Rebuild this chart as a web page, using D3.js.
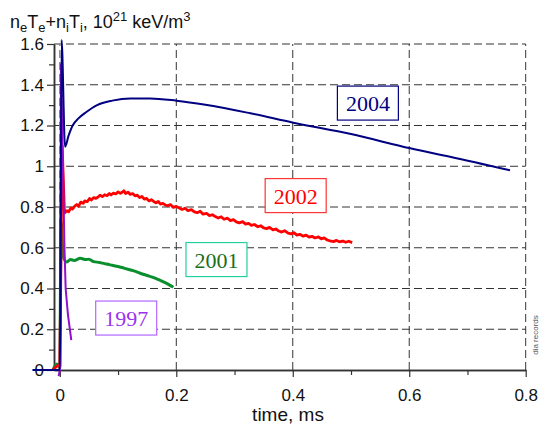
<!DOCTYPE html>
<html>
<head>
<meta charset="utf-8">
<script src="https://cdn.jsdelivr.net/npm/d3@7"></script>
<style>
  body { margin: 0; background: #fff; }
  svg { display: block; font-family: 'Liberation Sans', Arial, sans-serif; }
</style>
</head>
<body>
<div></div>
<script>
// data: [time ms, pressure 1e21 keV/m3]
const s2004 = [
  [-0.047, 0], [0, 0], [0.001, 0.3], [0.003, 1.62], [0.009, 1.096], [0.015, 1.15],
  [0.022, 1.2], [0.032, 1.235], [0.045, 1.265], [0.064, 1.3], [0.09, 1.322],
  [0.121, 1.333], [0.155, 1.333], [0.2, 1.322], [0.25, 1.302], [0.327, 1.26],
  [0.401, 1.214], [0.5, 1.158], [0.602, 1.088], [0.67, 1.047], [0.773, 0.98]
];
const s2002 = [
  [-0.012, 0], [-0.005, 0.02], [0, 0.02], [0.004, 1.1], [0.008, 0.77], [0.012, 0.782],
  [0.015, 0.776], [0.019, 0.795], [0.022, 0.79], [0.026, 0.806], [0.029, 0.812],
  [0.032, 0.803], [0.036, 0.824], [0.04, 0.818], [0.043, 0.83], [0.047, 0.826],
  [0.051, 0.842], [0.054, 0.834], [0.058, 0.846], [0.062, 0.842], [0.066, 0.85],
  [0.069, 0.858], [0.073, 0.851], [0.077, 0.86], [0.081, 0.856], [0.085, 0.866],
  [0.088, 0.859], [0.092, 0.868], [0.096, 0.864], [0.1, 0.874], [0.104, 0.867],
  [0.107, 0.872], [0.11, 0.88], [0.113, 0.866], [0.117, 0.873], [0.121, 0.862],
  [0.125, 0.866], [0.129, 0.855], [0.133, 0.858], [0.137, 0.846], [0.141, 0.852],
  [0.145, 0.839], [0.149, 0.842], [0.153, 0.83], [0.157, 0.836], [0.161, 0.828],
  [0.165, 0.82], [0.169, 0.827], [0.173, 0.814], [0.177, 0.818], [0.181, 0.81],
  [0.185, 0.806], [0.19, 0.812], [0.195, 0.798], [0.2, 0.803], [0.205, 0.795],
  [0.21, 0.788], [0.215, 0.794], [0.22, 0.782], [0.226, 0.787], [0.231, 0.776],
  [0.236, 0.772], [0.241, 0.779], [0.246, 0.765], [0.252, 0.769], [0.257, 0.758],
  [0.262, 0.762], [0.267, 0.753], [0.272, 0.746], [0.277, 0.752], [0.282, 0.74],
  [0.288, 0.745], [0.293, 0.733], [0.298, 0.738], [0.303, 0.727], [0.308, 0.722],
  [0.314, 0.728], [0.319, 0.716], [0.324, 0.72], [0.329, 0.71], [0.334, 0.714],
  [0.34, 0.703], [0.345, 0.708], [0.35, 0.698], [0.355, 0.694], [0.36, 0.7],
  [0.366, 0.688], [0.371, 0.692], [0.376, 0.682], [0.381, 0.677], [0.386, 0.684],
  [0.392, 0.672], [0.397, 0.668], [0.402, 0.674], [0.407, 0.662], [0.412, 0.666],
  [0.418, 0.657], [0.423, 0.662], [0.428, 0.652], [0.433, 0.656], [0.438, 0.648],
  [0.444, 0.653], [0.449, 0.644], [0.454, 0.648], [0.459, 0.638], [0.464, 0.634],
  [0.47, 0.63], [0.475, 0.636], [0.48, 0.629], [0.486, 0.633], [0.491, 0.627],
  [0.496, 0.632], [0.502, 0.625]
];
const s2001 = [
  [-0.012, 0], [-0.005, 0.03], [0, 0.01], [0.002, 0.73], [0.006, 0.556], [0.012, 0.53],
  [0.018, 0.542], [0.025, 0.538], [0.035, 0.548], [0.045, 0.542], [0.05, 0.544],
  [0.058, 0.532], [0.068, 0.528], [0.08, 0.52], [0.09, 0.514], [0.1, 0.508],
  [0.11, 0.5], [0.12, 0.492], [0.13, 0.484], [0.138, 0.475], [0.15, 0.464],
  [0.16, 0.455], [0.17, 0.443], [0.18, 0.43], [0.188, 0.418], [0.195, 0.406]
];
const s1997 = [
  [-0.002, -0.03], [0, 0], [0.002, 1.5], [0.005, 1.05], [0.008, 0.6], [0.01, 0.4],
  [0.014, 0.27], [0.0197, 0.147]
];

const series = [
  { name: '2001', data: s2001, color: '#0a8f2e', width: 3, smooth: true },
  { name: '2002', data: s2002, color: '#ff0000', width: 2.8, smooth: false },
  { name: '1997', data: s1997, color: '#9010d0', width: 2, smooth: false },
  { name: '2004', data: s2004, color: '#000080', width: 2, smooth: true }
];

// labels: name, text colour, border colour, box centre [t, v]
const labels = [
  ['2004', '#000080', '#000080', 0.529, 1.31],
  ['2002', '#ff0000', '#ff3333', 0.405, 0.856],
  ['2001', '#1a6e1a', '#22d0a0', 0.269, 0.542],
  ['1997', '#9933ee', '#b066ff', 0.114, 0.255]
];

const yMajor = [0, 0.2, 0.4, 0.6, 0.8, 1, 1.2, 1.4, 1.6];
const yMinor = [0.1, 0.3, 0.5, 0.7, 0.9, 1.1, 1.3, 1.5];
const xMajor = [0, 0.2, 0.4, 0.6, 0.8];
const xMinor = [0.1, 0.3, 0.5, 0.7];

const w = 540, h = 425;
const x = d3.scaleLinear().domain([-0.01, 0.8]).range([54, 525.7]);
const y = d3.scaleLinear().domain([0, 1.6]).range([370, 44]);

const svg = d3.select('div').append('svg').attr('width', w).attr('height', h);

// grid
svg.append('g').selectAll('line').data(yMajor.slice(1)).enter().append('line')
  .attr('x1', x.range()[0]).attr('x2', x.range()[1])
  .attr('y1', d => y(d)).attr('y2', d => y(d))
  .attr('stroke', '#333').attr('stroke-dasharray', '8,4');
svg.append('g').selectAll('line').data(xMajor).enter().append('line')
  .attr('x1', d => x(d)).attr('x2', d => x(d))
  .attr('y1', y(0)).attr('y2', y(1.6))
  .attr('stroke', d => d === 0 ? '#888' : '#333')
  .attr('stroke-width', d => d === 0 ? 1.5 : 1)
  .attr('stroke-dasharray', '8,4');

// axes
const fmt = d3.format('~g');
function styleAxis(g) {
  g.select('.domain').attr('stroke', '#333').attr('stroke-width', 1.5);
  g.selectAll('.tick line').attr('stroke', '#333').attr('stroke-width', 1.2);
  g.selectAll('text').attr('font-size', 17).attr('fill', '#111')
    .attr('font-family', "'Liberation Sans', Arial, sans-serif");
}
svg.append('g').attr('transform', 'translate(0,370)')
  .call(d3.axisBottom(x).tickValues(xMinor).tickSize(5).tickFormat('').tickSizeOuter(0))
  .call(styleAxis);
svg.append('g').attr('transform', 'translate(0,370)')
  .call(d3.axisBottom(x).tickValues(xMajor).tickSize(7).tickPadding(12).tickFormat(fmt).tickSizeOuter(0))
  .call(styleAxis);
svg.append('g').attr('transform', 'translate(54,0)')
  .call(d3.axisLeft(y).tickValues(yMinor).tickSize(5).tickFormat('').tickSizeOuter(0))
  .call(styleAxis);
svg.append('g').attr('transform', 'translate(54,0)')
  .call(d3.axisLeft(y).tickValues(yMajor).tickSize(7).tickPadding(3).tickFormat(fmt).tickSizeOuter(0))
  .call(styleAxis);

// series
series.forEach(s => {
  const line = d3.line()
    .x(d => x(d[0])).y(d => y(d[1]))
    .curve(s.smooth ? d3.curveMonotoneX : d3.curveLinear);
  svg.append('path').datum(s.data)
    .attr('d', line)
    .attr('fill', 'none')
    .attr('stroke', s.color)
    .attr('stroke-width', s.width)
    .attr('stroke-linejoin', 'round');
});

// labels
labels.forEach(l => {
  const cx = x(l[3]), cy = y(l[4]);
  svg.append('rect')
    .attr('x', cx - 30.5).attr('y', cy - 17)
    .attr('width', 61).attr('height', 34)
    .attr('fill', '#fff').attr('stroke', l[2]).attr('stroke-width', 1.2);
  svg.append('text')
    .attr('x', cx).attr('y', cy + 8)
    .attr('text-anchor', 'middle')
    .attr('font-family', "'Liberation Serif', 'Times New Roman', serif")
    .attr('font-size', 22)
    .attr('fill', l[1])
    .text(l[0]);
});

// title
const title = svg.append('text').attr('x', 10).attr('y', 28)
  .attr('font-size', 18).attr('fill', '#111');
title.append('tspan').text('n');
title.append('tspan').attr('font-size', 13).attr('dy', 4).text('e');
title.append('tspan').attr('dy', -4).text('T');
title.append('tspan').attr('font-size', 13).attr('dy', 4).text('e');
title.append('tspan').attr('dy', -4).text('+n');
title.append('tspan').attr('font-size', 13).attr('dy', 4).text('i');
title.append('tspan').attr('dy', -4).text('T');
title.append('tspan').attr('font-size', 13).attr('dy', 4).text('i');
title.append('tspan').attr('dy', -4).text(', 10');
title.append('tspan').attr('font-size', 13).attr('dy', -7).text('21');
title.append('tspan').attr('dy', 7).text(' keV/m');
title.append('tspan').attr('font-size', 13).attr('dy', -7).text('3');

// x axis title
svg.append('text').attr('x', 288).attr('y', 421)
  .attr('text-anchor', 'middle').attr('font-size', 19).attr('fill', '#111')
  .text('time, ms');

// side note
svg.append('text')
  .attr('transform', 'translate(538,335) rotate(-90)')
  .attr('text-anchor', 'middle').attr('font-size', 8).attr('fill', '#555')
  .text('dia records');
</script>
</body>
</html>
